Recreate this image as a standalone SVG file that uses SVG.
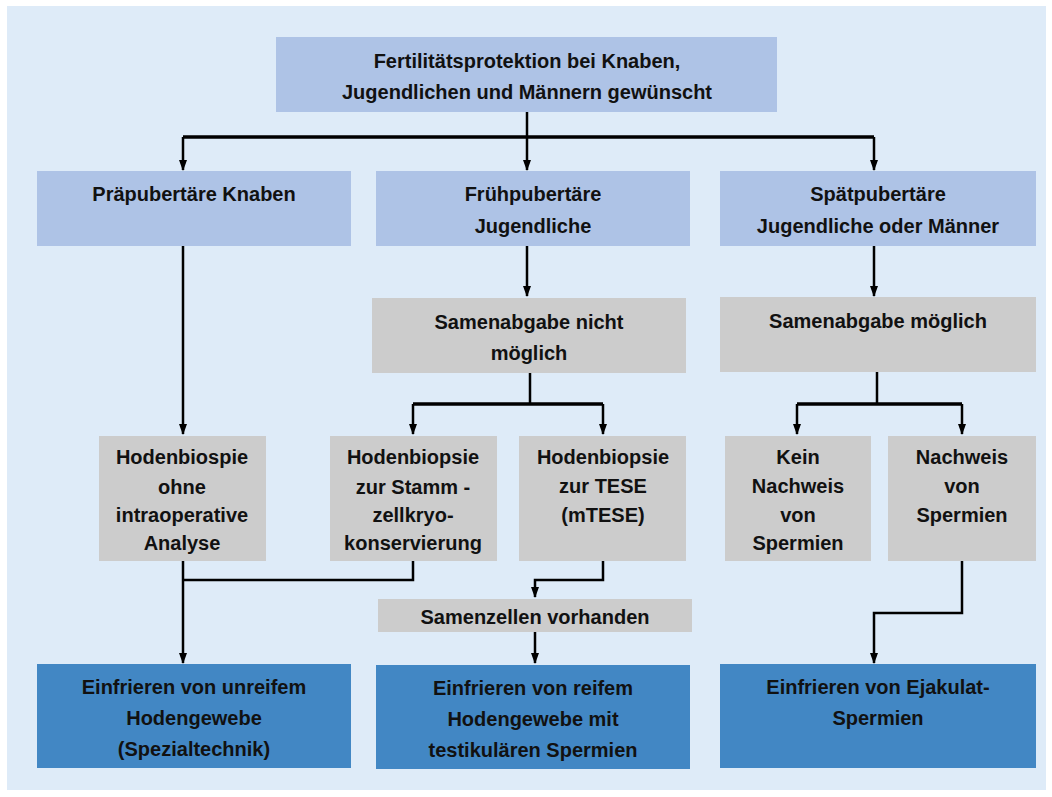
<svg xmlns="http://www.w3.org/2000/svg" width="1052" height="797" viewBox="0 0 1052 797">
<defs>
<style>
.bg{fill:#ffffff}
.panel{fill:#deebf8}
.lb{fill:#aec3e6}
.gr{fill:#cccccc}
.db{fill:#4287c4}
text{font-family:"Liberation Sans",Arial,sans-serif;font-weight:bold;font-size:20px;fill:#111;text-anchor:middle}
.ln{fill:none;stroke:#000;stroke-width:2.5}
.thick{stroke-width:3.5}
</style>
<marker id="ad" markerUnits="userSpaceOnUse" markerWidth="8" markerHeight="11" refX="4" refY="10" viewBox="0 0 8 11" orient="0">
<path d="M0,0 L8,0 L4,11 Z" fill="#000"/>
</marker>
</defs>
<rect class="bg" x="0" y="0" width="1052" height="797"/>
<rect class="panel" x="7" y="6" width="1039" height="784"/>

<g id="connectors">
<path class="ln" d="M527,112 V137"/>
<path class="ln thick" d="M183,137 H874"/>
<path class="ln" d="M183,137 V170" marker-end="url(#ad)"/>
<path class="ln" d="M527,137 V170" marker-end="url(#ad)"/>
<path class="ln" d="M874,137 V170" marker-end="url(#ad)"/>
<path class="ln" d="M183,246 V434" marker-end="url(#ad)"/>
<path class="ln" d="M527,246 V296" marker-end="url(#ad)"/>
<path class="ln" d="M874,246 V296" marker-end="url(#ad)"/>
<path class="ln" d="M530,373 V404"/>
<path class="ln thick" d="M413,404 H603"/>
<path class="ln" d="M413,404 V434" marker-end="url(#ad)"/>
<path class="ln" d="M603,404 V434" marker-end="url(#ad)"/>
<path class="ln" d="M877,372 V404"/>
<path class="ln thick" d="M797,404 H962"/>
<path class="ln" d="M797,404 V434" marker-end="url(#ad)"/>
<path class="ln" d="M962,404 V434" marker-end="url(#ad)"/>
<path class="ln" d="M183,561 V663" marker-end="url(#ad)"/>
<path class="ln" d="M413,561 V580 H183"/>
<path class="ln" d="M603,561 V580 H535 V597" marker-end="url(#ad)"/>
<path class="ln" d="M535,632 V663" marker-end="url(#ad)"/>
<path class="ln" d="M962,561 V613 H874 V663" marker-end="url(#ad)"/>
</g>

<g id="n-top"><rect class="lb" x="276" y="37" width="501" height="75"/>
<text x="527" y="68">Fertilitätsprotektion bei Knaben,</text>
<text x="527" y="99">Jugendlichen und Männern gewünscht</text></g>

<g id="n-prae"><rect class="lb" x="37" y="171" width="314" height="75"/>
<text x="194" y="201">Präpubertäre Knaben</text></g>
<g id="n-frueh"><rect class="lb" x="376" y="171" width="314" height="75"/>
<text x="533" y="201">Frühpubertäre</text>
<text x="533" y="233">Jugendliche</text></g>
<g id="n-spaet"><rect class="lb" x="720" y="171" width="316" height="75"/>
<text x="878" y="201">Spätpubertäre</text>
<text x="878" y="233">Jugendliche oder Männer</text></g>

<g id="n-nicht"><rect class="gr" x="372" y="298" width="314" height="75"/>
<text x="529" y="329">Samenabgabe nicht</text>
<text x="529" y="360">möglich</text></g>
<g id="n-moeglich"><rect class="gr" x="720" y="297" width="316" height="75"/>
<text x="878" y="328">Samenabgabe möglich</text></g>

<g id="n-hb1"><rect class="gr" x="99" y="436" width="167" height="125"/>
<text x="182" y="464">Hodenbiospie</text>
<text x="182" y="494">ohne</text>
<text x="182" y="522">intraoperative</text>
<text x="182" y="550">Analyse</text></g>
<g id="n-hb2"><rect class="gr" x="330" y="436" width="167" height="125"/>
<text x="413" y="464">Hodenbiopsie</text>
<text x="413" y="494">zur Stamm -</text>
<text x="413" y="522">zellkryo-</text>
<text x="413" y="550">konservierung</text></g>
<g id="n-hb3"><rect class="gr" x="519" y="436" width="167" height="125"/>
<text x="603" y="464">Hodenbiopsie</text>
<text x="603" y="493">zur TESE</text>
<text x="603" y="522">(mTESE)</text></g>
<g id="n-kein"><rect class="gr" x="725" y="436" width="146" height="125"/>
<text x="798" y="464">Kein</text>
<text x="798" y="493">Nachweis</text>
<text x="798" y="522">von</text>
<text x="798" y="550">Spermien</text></g>
<g id="n-nachweis"><rect class="gr" x="888" y="436" width="148" height="125"/>
<text x="962" y="464">Nachweis</text>
<text x="962" y="493">von</text>
<text x="962" y="522">Spermien</text></g>

<g id="n-samenzellen"><rect class="gr" x="378" y="599" width="314" height="33"/>
<text x="535" y="624">Samenzellen vorhanden</text></g>

<g id="n-unreif"><rect class="db" x="37" y="664" width="314" height="104"/>
<text x="194" y="694">Einfrieren von unreifem</text>
<text x="194" y="725">Hodengewebe</text>
<text x="194" y="756">(Spezialtechnik)</text></g>
<g id="n-reif"><rect class="db" x="376" y="665" width="314" height="104"/>
<text x="533" y="695">Einfrieren von reifem</text>
<text x="533" y="726">Hodengewebe mit</text>
<text x="533" y="757">testikulären Spermien</text></g>
<g id="n-ejak"><rect class="db" x="720" y="664" width="316" height="104"/>
<text x="878" y="694">Einfrieren von Ejakulat-</text>
<text x="878" y="725">Spermien</text></g>
</svg>
